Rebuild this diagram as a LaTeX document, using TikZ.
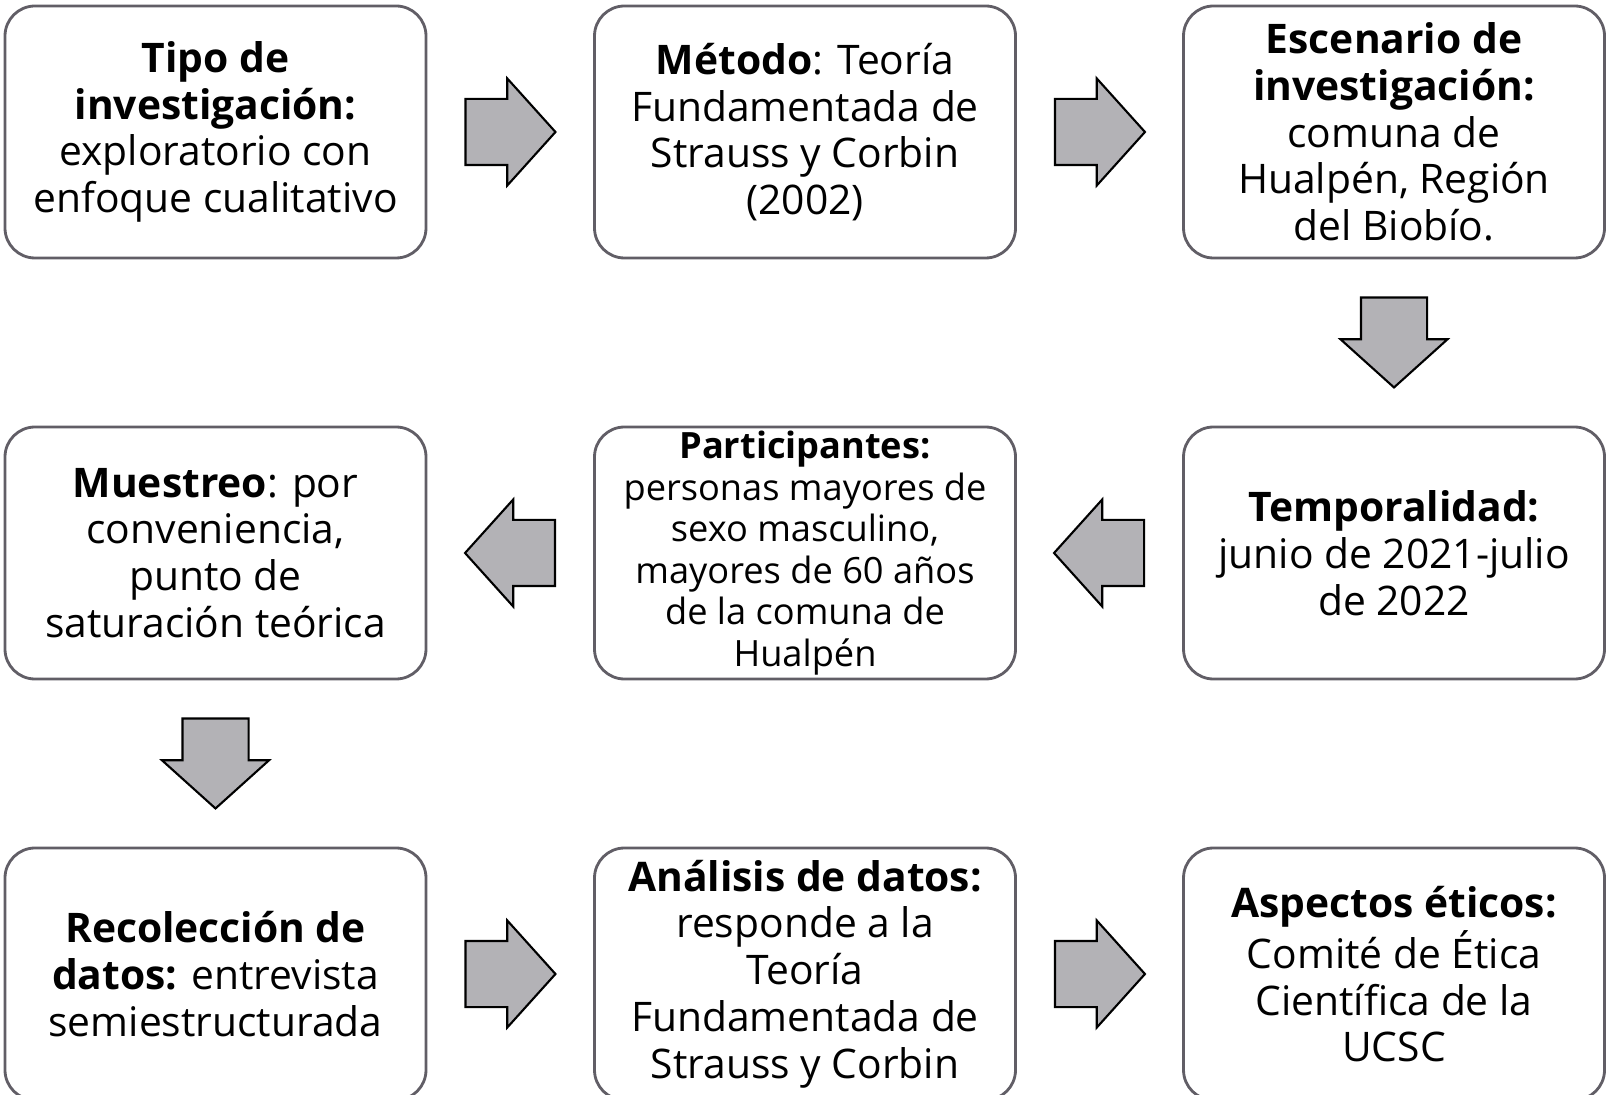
\documentclass[tikz,border=0pt]{standalone}
\usepackage{fontspec}
\setmainfont{Open Sans}
\usepackage{tikz}
\usetikzlibrary{arrows.meta, calc, shapes.arrows}
\definecolor{boxline}{RGB}{97,94,102}
\definecolor{arrowfill}{RGB}{179,178,182}
\tikzset{
  etapa/.style={draw=boxline, line width=0.8pt, rounded corners=0.3cm,
    minimum width=4.21cm, minimum height=2.52cm, align=center, inner ysep=0pt,
    font=\fontsize{11.6}{13.3}\selectfont},
  flecha/.style={single arrow, draw=black, fill=arrowfill, line width=0.6pt,
    minimum height=0.9cm, inner xsep=0pt, inner ysep=0.32cm, anchor=tail,
    single arrow head extend=0.205cm, single arrow tip angle=96},
  flechaabajo/.style={flecha, shape border rotate=270, inner xsep=0.32cm, inner ysep=0pt},
  flechaizq/.style={flecha, shape border rotate=180},
}

\begin{document}
\begin{tikzpicture}
    \clip (0, 0) rectangle (16.14, -10.95);
    \node[etapa] (tipo) at (2.155, -1.32){\textbf{Tipo de}\\\textbf{investigación:}\\exploratorio con\\enfoque cualitativo};
    \node[etapa] (metodo) at (8.05, -1.32){\textbf{Método}: Teoría\\Fundamentada de\\Strauss y Corbin\\(2002)};
    \node[etapa] (escenario) at (13.94, -1.32){\textbf{Escenario de}\\\textbf{investigación:}\\comuna de\\Hualpén, Región\\del Biobío.};
    \node[etapa] (tempo) at (13.94, -5.53){\textbf{Temporalidad:}\\junio de 2021-julio\\de 2022};
    \node[etapa, font=\fontsize{10.3}{11.8}\selectfont] (partic) at (8.05, -5.53){\textbf{Participantes:}\\personas mayores de\\sexo masculino,\\mayores de 60 años\\de la comuna de\\Hualpén};
    \node[etapa] (muestreo) at (2.155, -5.53){\textbf{Muestreo}: por\\conveniencia,\\punto de\\saturación teórica};
    \node[etapa] (recol) at (2.155, -9.74){\textbf{Recolección de}\\\textbf{datos:} entrevista\\semiestructurada};
    \node[etapa] (analisis) at (8.05, -9.74){\textbf{Análisis de datos:}\\responde a la\\Teoría\\Fundamentada de\\Strauss y Corbin};
    \node[etapa] (etica) at (13.94, -9.74){\textbf{Aspectos éticos:}\\Comité de Ética\\Científica de la\\UCSC};
    % flechas entre etapas
    \node[flecha] (f1) at ($(tipo.east)+(0.37, 0)$){};
    \node[flecha] (f2) at ($(metodo.east)+(0.37, 0)$){};
    \node[flechaabajo] (f3) at ($(escenario.south)+(0, -0.37)$){};
    \node[flechaizq] (f4) at ($(tempo.west)+(-0.37, 0)$){};
    \node[flechaizq] (f5) at ($(partic.west)+(-0.37, 0)$){};
    \node[flechaabajo] (f6) at ($(muestreo.south)+(0, -0.37)$){};
    \node[flecha] (f7) at ($(recol.east)+(0.37, 0)$){};
    \node[flecha] (f8) at ($(analisis.east)+(0.37, 0)$){};
  \end{tikzpicture}
\end{document}
